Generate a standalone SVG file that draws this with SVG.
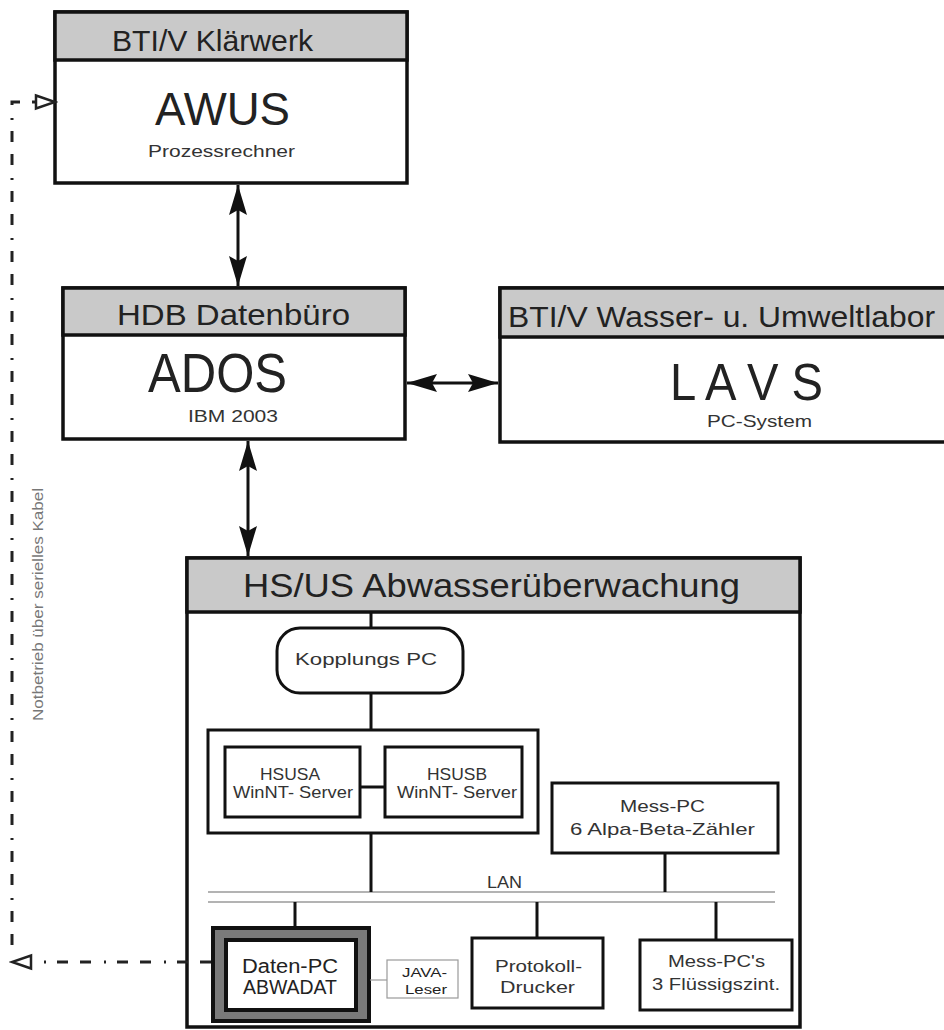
<svg xmlns="http://www.w3.org/2000/svg" width="944" height="1030" viewBox="0 0 944 1030">
  <style>
    text { font-family: "Liberation Sans", Arial, sans-serif; fill: #222; }
    .box { fill: #fff; stroke: #111; stroke-width: 3.5; }
    .sub { fill: #fff; stroke: #111; stroke-width: 3; }
    .hdr { fill: #c9c9c9; stroke: #111; stroke-width: 3.5; }
    .wire { stroke: #111; stroke-width: 3; fill: none; }
    .lan { stroke: #9a9a9a; stroke-width: 1.5; fill: none; }
    .thin { stroke: #9a9a9a; stroke-width: 1.2; fill: #fff; }
    .dashdot { stroke: #222; stroke-width: 3; fill: none; stroke-dasharray: 11 12 11 11 2 13; }
    .h1 { font-size: 29px; }
    .big { font-size: 50px; }
    .small { font-size: 17px; fill: #333; }
    .note { font-size: 14px; fill: #777; }
  </style>
  <defs>
    <marker id="solid" markerUnits="userSpaceOnUse" markerWidth="32" markerHeight="20" refX="30" refY="10" orient="auto-start-reverse">
      <path d="M0,1 L30,10 L0,19 L5,10 Z" fill="#111"/>
    </marker>
    <marker id="open" markerUnits="userSpaceOnUse" markerWidth="24" markerHeight="18" refX="21" refY="9" orient="auto">
      <path d="M2,2.5 L21,9 L2,15.5 Z" fill="#fff" stroke="#222" stroke-width="2.5" stroke-linejoin="miter"/>
    </marker>
  </defs>

  <!-- AWUS process computer -->
  <g id="awus">
    <rect class="box" x="55" y="12" width="352" height="171"/>
    <rect class="hdr" x="55" y="12" width="352" height="48"/>
    <text class="h1" x="112" y="51" textLength="201" lengthAdjust="spacingAndGlyphs">BTI/V Klärwerk</text>
    <text x="155" y="125" font-size="47" textLength="135" lengthAdjust="spacingAndGlyphs">AWUS</text>
    <text class="small" x="148" y="157" textLength="147" lengthAdjust="spacingAndGlyphs">Prozessrechner</text>
  </g>

  <!-- ADOS data office -->
  <g id="ados">
    <rect class="box" x="63" y="288" width="342" height="151"/>
    <rect class="hdr" x="63" y="288" width="342" height="47"/>
    <text class="h1" x="117" y="325" textLength="233" lengthAdjust="spacingAndGlyphs">HDB Datenbüro</text>
    <text x="148" y="392" font-size="55" textLength="139" lengthAdjust="spacingAndGlyphs">ADOS</text>
    <text class="small" x="188" y="422" textLength="90" lengthAdjust="spacingAndGlyphs">IBM 2003</text>
  </g>

  <!-- LAVS lab system -->
  <g id="lavs">
    <rect class="box" x="500" y="288" width="450" height="154"/>
    <rect class="hdr" x="500" y="288" width="450" height="49"/>
    <text class="h1" x="508" y="327" textLength="427" lengthAdjust="spacingAndGlyphs">BTI/V Wasser- u. Umweltlabor</text>
    <text x="670" y="400" font-size="52" textLength="153" lengthAdjust="spacingAndGlyphs">L A V S</text>
    <text class="small" x="707" y="427" font-size="16" textLength="105" lengthAdjust="spacingAndGlyphs">PC-System</text>
  </g>

  <!-- HS/US waste water monitoring -->
  <g id="hsus">
    <rect class="box" x="187" y="558" width="613" height="469"/>
    <rect class="hdr" x="187" y="558" width="613" height="54"/>
    <text x="243" y="597" font-size="34" textLength="497" lengthAdjust="spacingAndGlyphs">HS/US Abwasserüberwachung</text>
  </g>

  <g id="kopplungs-pc">
    <rect class="sub" x="277" y="628" width="186" height="65" rx="23" ry="23"/>
    <text class="small" x="295" y="665" textLength="142" lengthAdjust="spacingAndGlyphs">Kopplungs PC</text>
  </g>

  <g id="server-cluster">
    <rect class="sub" x="208" y="730" width="330" height="103"/>
  </g>

  <g id="hsusa">
    <rect class="sub" x="225" y="747" width="135" height="70"/>
    <text class="small" x="260" y="780" textLength="60" lengthAdjust="spacingAndGlyphs">HSUSA</text>
    <text class="small" x="233" y="798" textLength="120" lengthAdjust="spacingAndGlyphs">WinNT- Server</text>
  </g>

  <g id="hsusb">
    <rect class="sub" x="385" y="747" width="137" height="70"/>
    <text class="small" x="427" y="780" textLength="60" lengthAdjust="spacingAndGlyphs">HSUSB</text>
    <text class="small" x="397" y="798" textLength="120" lengthAdjust="spacingAndGlyphs">WinNT- Server</text>
  </g>

  <g id="mess-pc">
    <rect class="sub" x="552" y="783" width="226" height="70"/>
    <text class="small" x="620" y="812" textLength="85" lengthAdjust="spacingAndGlyphs">Mess-PC</text>
    <text class="small" x="570" y="835" textLength="185" lengthAdjust="spacingAndGlyphs">6 Alpa-Beta-Zähler</text>
  </g>

  <g id="lan">
    <line class="lan" x1="208" y1="892" x2="775" y2="892"/>
    <line class="lan" x1="208" y1="902" x2="775" y2="902"/>
    <text class="small" x="487" y="888" textLength="35" lengthAdjust="spacingAndGlyphs">LAN</text>
  </g>

  <g id="daten-pc">
    <rect x="213" y="928" width="156" height="93" fill="#7a7a7a" stroke="#111" stroke-width="4"/>
    <rect x="226" y="940" width="130" height="70" fill="#fff" stroke="#111" stroke-width="4"/>
    <text x="242" y="973" font-size="20" fill="#333" textLength="96" lengthAdjust="spacingAndGlyphs">Daten-PC</text>
    <text x="243" y="994" font-size="20" fill="#333" textLength="94" lengthAdjust="spacingAndGlyphs">ABWADAT</text>
  </g>

  <g id="java-leser">
    <rect class="thin" x="387" y="960" width="71" height="38"/>
    <text x="402" y="977" font-size="12" fill="#888" textLength="45" lengthAdjust="spacingAndGlyphs">JAVA-</text>
    <text x="405" y="994" font-size="12" fill="#888" textLength="42" lengthAdjust="spacingAndGlyphs">Leser</text>
  </g>

  <g id="protokoll-drucker">
    <rect class="sub" x="472" y="938" width="131" height="70"/>
    <text class="small" x="495" y="972" textLength="87" lengthAdjust="spacingAndGlyphs">Protokoll-</text>
    <text class="small" x="500" y="993" textLength="75" lengthAdjust="spacingAndGlyphs">Drucker</text>
  </g>

  <g id="mess-pcs">
    <rect class="sub" x="640" y="940" width="152" height="70"/>
    <text class="small" x="668" y="967" textLength="97" lengthAdjust="spacingAndGlyphs">Mess-PC's</text>
    <text class="small" x="652" y="990" textLength="128" lengthAdjust="spacingAndGlyphs">3 Flüssigszint.</text>
  </g>

  <!-- connectors -->
  <g id="connectors">
    <line class="wire" x1="238" y1="185" x2="238" y2="286" marker-start="url(#solid)" marker-end="url(#solid)"/>
    <line class="wire" x1="407" y1="383" x2="498" y2="383" marker-start="url(#solid)" marker-end="url(#solid)"/>
    <line class="wire" x1="248" y1="441" x2="248" y2="556" marker-start="url(#solid)" marker-end="url(#solid)"/>

    <line class="wire" x1="371" y1="612" x2="371" y2="628"/>
    <line class="wire" x1="371" y1="693" x2="371" y2="730"/>
    <line class="wire" x1="360" y1="787" x2="385" y2="787"/>
    <line class="wire" x1="371" y1="833" x2="371" y2="892"/>
    <line class="wire" x1="665" y1="853" x2="665" y2="892"/>
    <line class="wire" x1="295" y1="902" x2="295" y2="927"/>
    <line class="wire" x1="537" y1="902" x2="537" y2="938"/>
    <line class="wire" x1="716" y1="902" x2="716" y2="940"/>
    <line x1="370" y1="980" x2="387" y2="980" stroke="#9a9a9a" stroke-width="1.2"/>

    <!-- emergency serial link -->
    <path class="dashdot" d="M211,962 H12" marker-end="url(#open)"/>
    <path class="dashdot" d="M12,945 V102 H55" marker-end="url(#open)"/>
    <text class="note" transform="translate(43,721) rotate(-90)" textLength="233" lengthAdjust="spacingAndGlyphs">Notbetrieb über serielles Kabel</text>
  </g>
</svg>
